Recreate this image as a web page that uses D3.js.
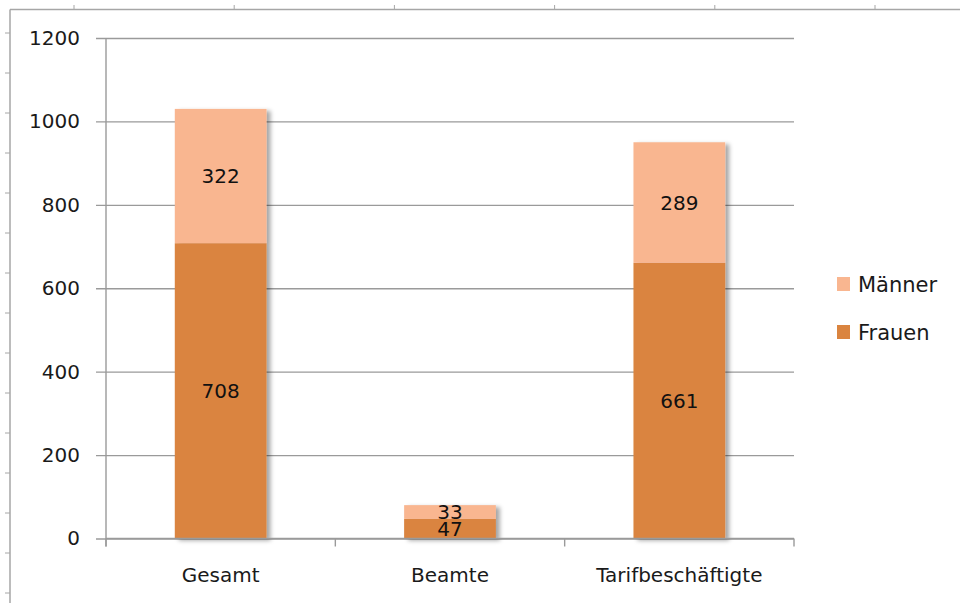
<!DOCTYPE html>
<html>
<head>
<meta charset="utf-8">
<script src="https://cdn.jsdelivr.net/npm/d3@7.9.0/dist/d3.min.js"></script>
<style>
  body { margin: 0; background: #fff; }
  svg { display: block; font-family: "DejaVu Sans", sans-serif; }
</style>
</head>
<body>
<div id="chart"></div>
<script>
const categories = ['Gesamt', 'Beamte', 'Tarifbeschäftigte'];
const frauen = [708, 47, 661];
const maenner = [322, 33, 289];
const seriesNames = ['Frauen', 'Männer'];
const yTicks = [0, 200, 400, 600, 800, 1000, 1200];

const colors = { Frauen: '#da843f', 'Männer': '#f9b690' };

const width = 960;
const height = 603;
const plot = { left: 106, right: 794, top: 38, bottom: 538.5 };

const svg = d3.select('#chart')
  .append('svg')
  .attr('width', width)
  .attr('height', height);

const defs = svg.append('defs');
defs.append('filter')
  .attr('id', 'shadow')
  .attr('x', '-10%').attr('y', '-10%')
  .attr('width', '130%').attr('height', '130%')
  .append('feDropShadow')
  .attr('dx', 4).attr('dy', 2)
  .attr('stdDeviation', 2)
  .attr('flood-color', '#000')
  .attr('flood-opacity', 0.35);

// outer frame with small ruler ticks
const frame = svg.append('g').attr('stroke', '#a6a6a6').attr('stroke-width', 1.5);
frame.append('line').attr('x1', 10).attr('x2', width).attr('y1', 9.5).attr('y2', 9.5);
frame.append('line').attr('x1', 10).attr('x2', 10).attr('y1', 9.5).attr('y2', height);
frame.selectAll('.tx')
  .data(d3.range(74, width, 160.2))
  .join('line')
  .attr('x1', d => d).attr('x2', d => d)
  .attr('y1', 5).attr('y2', 9.5)
  .attr('stroke-width', 1);
frame.selectAll('.ty')
  .data(d3.range(33, height, 40))
  .join('line')
  .attr('x1', 5).attr('x2', 10)
  .attr('y1', d => d).attr('y2', d => d)
  .attr('stroke-width', 1);

const x = d3.scaleBand()
  .domain(categories)
  .range([plot.left, plot.right])
  .paddingInner(0.6)
  .paddingOuter(0.3);

const y = d3.scaleLinear()
  .domain([0, 1200])
  .range([plot.bottom, plot.top]);

// gridlines + y labels
const yAxis = svg.append('g')
  .attr('transform', `translate(${plot.left},0)`)
  .call(d3.axisLeft(y).tickValues(yTicks).tickFormat(d3.format('d')).tickSize(10).tickPadding(16));
yAxis.select('.domain').remove();
yAxis.selectAll('.tick line')
  .attr('x2', plot.right - plot.left)
  .attr('x1', -10)
  .attr('stroke', '#9a9a9a')
  .attr('stroke-width', 1.4);
yAxis.selectAll('.tick text')
  .attr('font-size', 20)
  .attr('fill', '#1a1a1a')
  .attr('font-family', '"DejaVu Sans", sans-serif');

// y axis line
svg.append('line')
  .attr('x1', plot.left).attr('x2', plot.left)
  .attr('y1', plot.top).attr('y2', plot.bottom + 8)
  .attr('stroke', '#9a9a9a').attr('stroke-width', 1.4);

// stacked bars
const table = categories.map((c, i) => ({ cat: c, Frauen: frauen[i], 'Männer': maenner[i] }));
const stack = d3.stack().keys(seriesNames)(table);

const groups = svg.append('g')
  .selectAll('g')
  .data(table)
  .join('g')
  .attr('filter', 'url(#shadow)');

groups.each(function (d, i) {
  const g = d3.select(this);
  stack.forEach(s => {
    const seg = s[i];
    g.append('rect')
      .attr('x', x(d.cat))
      .attr('width', x.bandwidth())
      .attr('y', y(seg[1]))
      .attr('height', y(seg[0]) - y(seg[1]))
      .attr('fill', colors[s.key]);
  });
});

// data labels
const labels = svg.append('g')
  .attr('font-size', 20)
  .attr('fill', '#111')
  .attr('text-anchor', 'middle');
stack.forEach(s => {
  labels.selectAll(null)
    .data(s)
    .join('text')
    .attr('x', d => x(d.data.cat) + x.bandwidth() / 2)
    .attr('y', d => (y(d[0]) + y(d[1])) / 2)
    .attr('dy', '0.36em')
    .text(d => d.data[s.key]);
});

// x axis
const xAxis = svg.append('g')
  .attr('transform', `translate(0,${plot.bottom})`);
xAxis.append('line')
  .attr('x1', plot.left).attr('x2', plot.right)
  .attr('stroke', '#9a9a9a').attr('stroke-width', 1.4);
const bandEdge = (plot.right - plot.left) / categories.length;
xAxis.selectAll('.xt')
  .data(d3.range(categories.length + 1))
  .join('line')
  .attr('x1', i => plot.left + i * bandEdge)
  .attr('x2', i => plot.left + i * bandEdge)
  .attr('y1', 0).attr('y2', 8)
  .attr('stroke', '#9a9a9a').attr('stroke-width', 1.4);
xAxis.selectAll('text')
  .data(categories)
  .join('text')
  .attr('x', d => x(d) + x.bandwidth() / 2)
  .attr('y', 43.5)
  .attr('text-anchor', 'middle')
  .attr('font-size', 20)
  .attr('fill', '#1a1a1a')
  .text(d => d);

// legend
const legendItems = ['Männer', 'Frauen'];
const legend = svg.append('g')
  .selectAll('g')
  .data(legendItems)
  .join('g')
  .attr('transform', (d, i) => `translate(837,${277 + i * 48})`);
legend.append('rect')
  .attr('width', 13).attr('height', 14)
  .attr('fill', d => colors[d]);
legend.append('text')
  .attr('x', 21).attr('y', 7)
  .attr('dy', '0.36em')
  .attr('font-size', 21)
  .attr('fill', '#1a1a1a')
  .text(d => d);
</script>
</body>
</html>
